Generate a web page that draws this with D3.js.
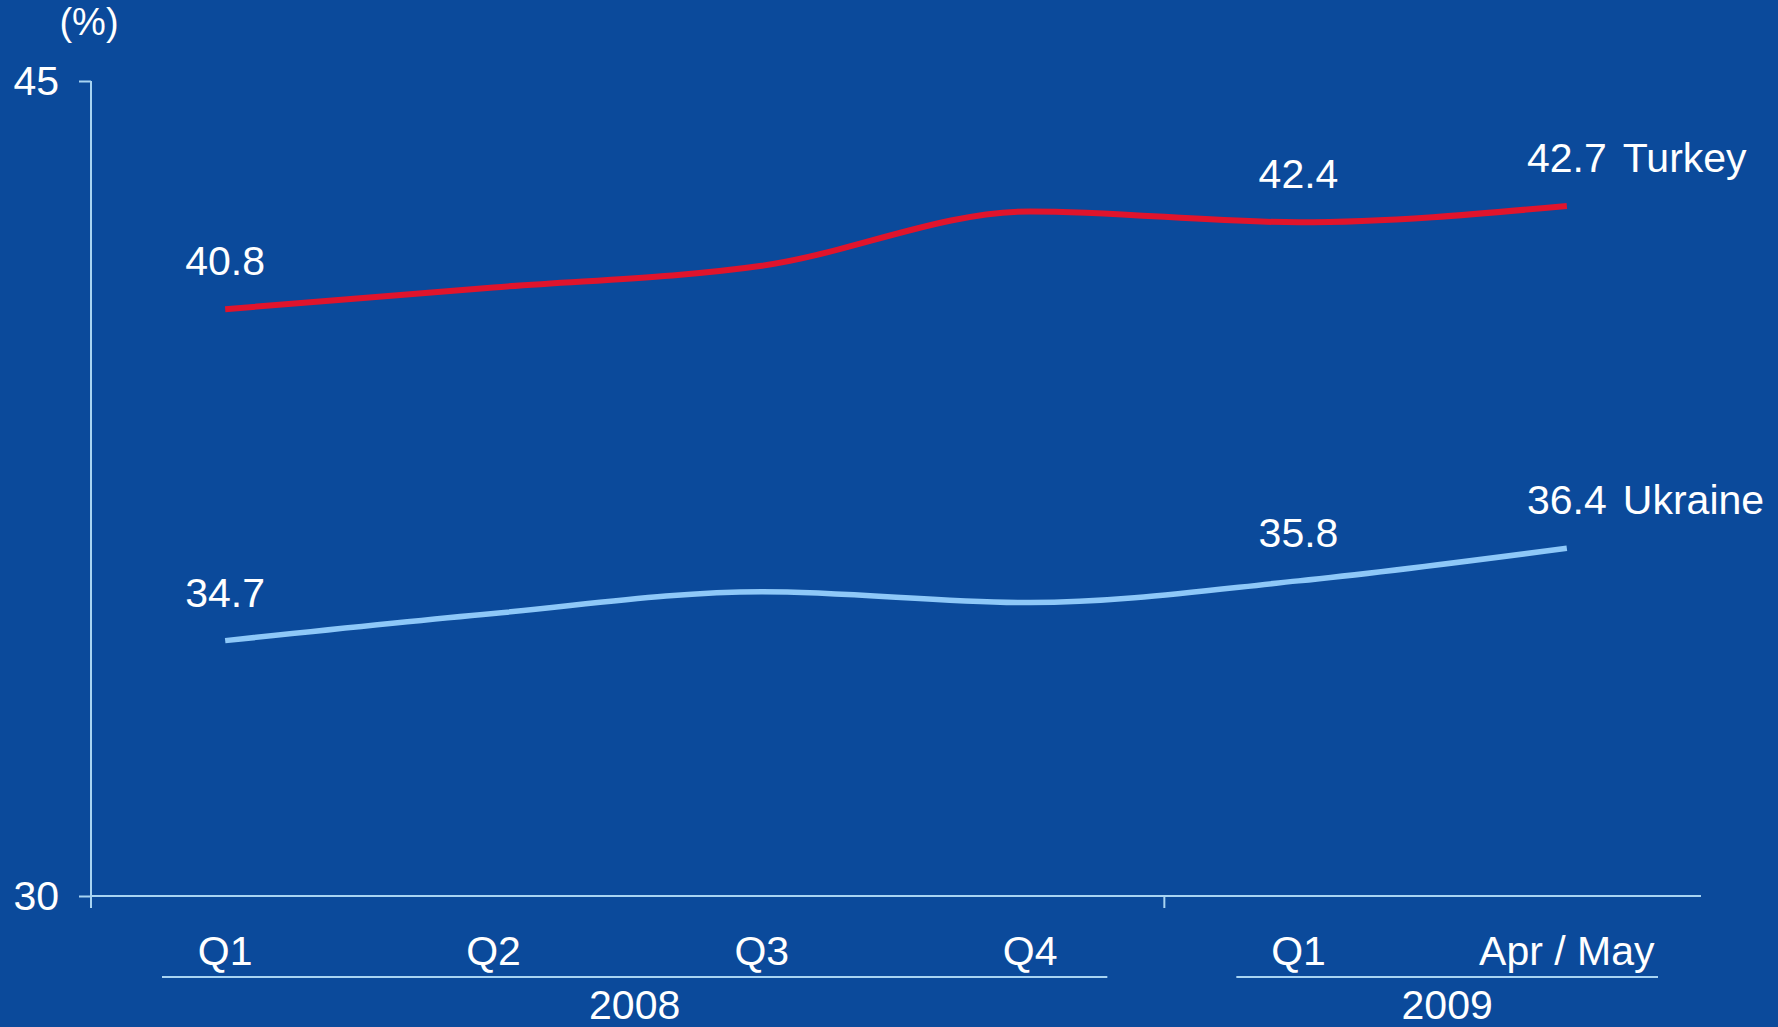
<!DOCTYPE html>
<html>
<head>
<meta charset="utf-8">
<script src="https://cdn.jsdelivr.net/npm/d3@7"></script>
<style>
  html, body { margin: 0; padding: 0; background: #0b4a9b; }
  svg { display: block; }
  text { font-family: "Liberation Sans", Arial, Helvetica, sans-serif; fill: #ffffff; }
</style>
</head>
<body>
<svg id="chart" width="1778" height="1027"></svg>
<script>
// Periods on the x axis and the year groups they belong to
const categories = ["Q1 2008", "Q2 2008", "Q3 2008", "Q4 2008", "Q1 2009", "Apr/May 2009"];
const categoryLabels = ["Q1", "Q2", "Q3", "Q4", "Q1", "Apr / May"];
const years = ["2008", "2009"];
const yearFirst = [0, 4];
const yearLast = [3, 5];

// Series values (%)
const seriesNames = ["Turkey", "Ukraine"];
const turkey = [40.8, 41.2, 41.6, 42.6, 42.4, 42.7];
const ukraine = [34.7, 35.2, 35.6, 35.4, 35.8, 36.4];
const labelledPoints = [0, 4, 5];

// Y axis
const yTicks = [30, 45];
const yUnit = "(%)";

const W = 1778, H = 1027;
const plotLeft = 91, plotRight = 1701, plotTop = 81, plotBottom = 896;
const colors = { bg: "#0b4a9b", axis: "#a8d4f2", turkey: "#e0142c", ukraine: "#8ec8f8" };

const svg = d3.select("#chart");
svg.append("rect").attr("width", W).attr("height", H).attr("fill", colors.bg);

const x = d3.scaleBand().domain(categories).range([plotLeft, plotRight]).paddingInner(0).paddingOuter(0);
const cx = c => x(c) + x.bandwidth() / 2;
const y = d3.scaleLinear().domain([30, 45]).range([plotBottom, plotTop]);

// Y axis: ticks and labels from the axis generator, spine drawn past the x axis
const yAxis = svg.append("g")
  .attr("transform", `translate(${plotLeft},0)`)
  .call(d3.axisLeft(y).tickValues(yTicks).tickSize(12).tickPadding(20).tickFormat(d3.format("d")));
yAxis.select(".domain").remove();
yAxis.selectAll(".tick line").attr("stroke", colors.axis).attr("stroke-width", 2);
yAxis.selectAll(".tick text")
  .attr("fill", "#ffffff")
  .style("font-size", "41px")
  .style("font-family", "'Liberation Sans', Arial, sans-serif");
svg.append("line")
  .attr("x1", plotLeft).attr("x2", plotLeft)
  .attr("y1", y(45)).attr("y2", plotBottom + 12)
  .attr("stroke", colors.axis).attr("stroke-width", 2);

svg.append("text")
  .attr("x", 89).attr("y", 35)
  .attr("text-anchor", "middle")
  .style("font-size", "38px")
  .text(yUnit);

// X axis line
svg.append("line")
  .attr("x1", plotLeft).attr("x2", plotRight)
  .attr("y1", plotBottom).attr("y2", plotBottom)
  .attr("stroke", colors.axis).attr("stroke-width", 2);

// Tick separating the two years
svg.append("line")
  .attr("x1", x(categories[yearFirst[1]])).attr("x2", x(categories[yearFirst[1]]))
  .attr("y1", plotBottom).attr("y2", plotBottom + 12)
  .attr("stroke", colors.axis).attr("stroke-width", 2);

// Period labels
svg.append("g").selectAll("text")
  .data(categories)
  .join("text")
  .attr("x", d => cx(d))
  .attr("y", 965)
  .attr("text-anchor", "middle")
  .style("font-size", "41px")
  .text((d, i) => categoryLabels[i]);

// Year group underlines and labels
const underlineInset = [[71, 57], [72, 43]];
const groups = years.map((yr, i) => {
  const x0 = x(categories[yearFirst[i]]) + underlineInset[i][0];
  const x1 = x(categories[yearLast[i]]) + x.bandwidth() - underlineInset[i][1];
  return { yr, x0, x1 };
});
const g = svg.append("g");
g.selectAll("line")
  .data(groups)
  .join("line")
  .attr("x1", d => d.x0).attr("x2", d => d.x1)
  .attr("y1", 977).attr("y2", 977)
  .attr("stroke", colors.axis).attr("stroke-width", 2);
g.selectAll("text")
  .data(groups)
  .join("text")
  .attr("x", d => (d.x0 + d.x1) / 2)
  .attr("y", 1019)
  .attr("text-anchor", "middle")
  .style("font-size", "41px")
  .text(d => d.yr);

// Series lines
const series = [
  { name: seriesNames[0], values: turkey, color: colors.turkey, width: 6 },
  { name: seriesNames[1], values: ukraine, color: colors.ukraine, width: 5.5 }
];
const line = d3.line()
  .x((d, i) => cx(categories[i]))
  .y(d => y(d))
  .curve(d3.curveMonotoneX);

series.forEach(s => {
  svg.append("path")
    .datum(s.values)
    .attr("fill", "none")
    .attr("stroke", s.color)
    .attr("stroke-width", s.width)
    .attr("stroke-linejoin", "round")
    .attr("d", line);

  // Value labels above selected points
  svg.append("g").selectAll("text")
    .data(labelledPoints)
    .join("text")
    .attr("x", i => cx(categories[i]))
    .attr("y", i => y(s.values[i]) - 34)
    .attr("text-anchor", "middle")
    .style("font-size", "41px")
    .text(i => d3.format(".1f")(s.values[i]));

  // Series name after the last value
  const last = s.values.length - 1;
  svg.append("text")
    .attr("x", cx(categories[last]) + 56)
    .attr("y", y(s.values[last]) - 34)
    .style("font-size", "41px")
    .text(s.name);
});
</script>
</body>
</html>
